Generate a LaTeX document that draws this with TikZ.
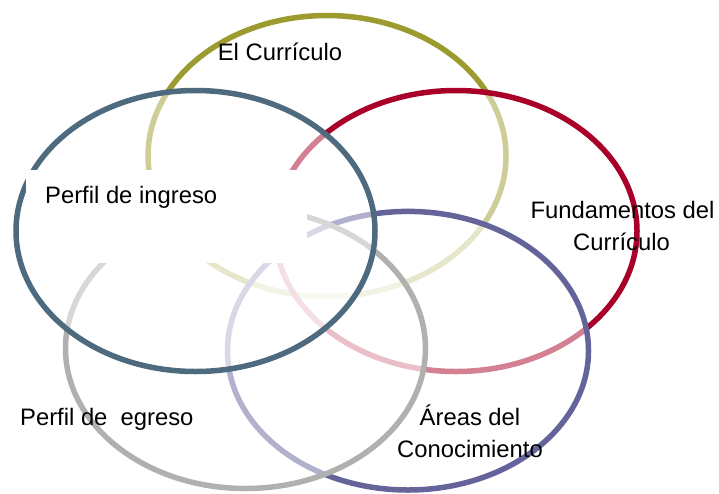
\documentclass[tikz,border=0pt]{standalone}
\usepackage{fontspec}
\setmainfont{Liberation Sans}
\definecolor{olivering}{RGB}{155,155,48}
\definecolor{redring}{RGB}{168,0,40}
\definecolor{purplering}{RGB}{100,100,155}
\definecolor{bluering}{RGB}{77,106,126}
\definecolor{grayring}{RGB}{176,176,176}
\tikzset{
  ringline/.style={line width=5.5pt},
  veil/.style={fill=white, fill opacity=0.5},
  lbl/.style={inner sep=0pt, font=\fontsize{23.8}{28}\selectfont, text=black},
}
\begin{document}
\begin{tikzpicture}[x=1pt,y=-1pt]
\useasboundingbox (0,0) rectangle (719,493);
% rings, back to front; each later ring veils the ones behind it
\draw[ringline, draw=olivering] (327,156) ellipse [x radius=179, y radius=140.5];
\fill[veil] (456,231) ellipse [x radius=181, y radius=140.5];
\draw[ringline, draw=redring] (456,231) ellipse [x radius=181, y radius=140.5];
\fill[veil] (408,350.7) ellipse [x radius=180.5, y radius=139.3];
\draw[ringline, draw=purplering] (408,350.7) ellipse [x radius=180.5, y radius=139.3];
\fill[veil] (245.5,348.5) ellipse [x radius=180, y radius=140];
\draw[ringline, draw=grayring] (245.5,348.5) ellipse [x radius=180, y radius=140];
\fill[veil] (195.5,231) ellipse [x radius=179.5, y radius=140.5];
\draw[ringline, draw=bluering] (195.5,231) ellipse [x radius=179.5, y radius=140.5];
% white panel behind the label
\fill[white] (26,170) rectangle (307,263);
% labels
\node[lbl, anchor=base] (curr) at (280,60) {El Currículo};
\node[lbl, anchor=base west] (ingreso) at (45,203) {Perfil de ingreso};
\node[lbl, anchor=base] (fund1) at (622.5,218) {Fundamentos del};
\node[lbl, anchor=base] (fund2) at (621.5,250) {Currículo};
\node[lbl, anchor=base west] (egreso) at (20,425) {Perfil de\ \ egreso};
\node[lbl, anchor=base] (areas1) at (470,425) {Áreas del};
\node[lbl, anchor=base] (areas2) at (470,457) {Conocimiento};
\end{tikzpicture}
\end{document}
